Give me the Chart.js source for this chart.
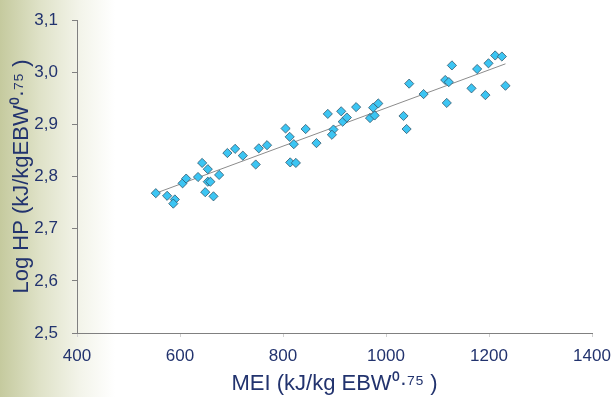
<!DOCTYPE html>
<html>
<head>
<meta charset="utf-8">
<script src="https://cdn.jsdelivr.net/npm/chart.js@4"></script>
<style>
  html, body { margin: 0; padding: 0; }
  body {
    width: 612px; height: 397px; overflow: hidden;
    background: linear-gradient(90deg, #c5ca9e 0px, #dfe2c8 40px, #f3f4ea 80px, #ffffff 115px);
  }
  #wrap { position: relative; width: 612px; height: 397px; }
</style>
</head>
<body>
<div id="wrap"><canvas id="chart1"></canvas></div>
<script>
// Valeurs (MEI, Log HP)
const meiValues = [553, 575, 590, 587, 605, 612, 635, 643, 654, 654, 659, 649, 665, 676,
  692, 707, 722, 747, 753, 769, 805, 813, 821, 814, 825, 844, 865, 887, 898, 895, 913,
  916, 924, 942, 969, 978, 975, 985, 1045, 1073, 1034, 1040, 1128, 1115, 1122, 1118,
  1166, 1177, 1193, 1199, 1212, 1225, 1232];
const logHpValues = [2.768, 2.763, 2.756, 2.748, 2.787, 2.796, 2.799, 2.826, 2.814, 2.790,
  2.790, 2.770, 2.762, 2.803, 2.845, 2.853, 2.840, 2.823, 2.854, 2.860, 2.892, 2.876,
  2.862, 2.827, 2.826, 2.891, 2.864, 2.920, 2.890, 2.880, 2.925, 2.905, 2.913, 2.933,
  2.912, 2.917, 2.932, 2.940, 2.978, 2.958, 2.916, 2.891, 3.013, 2.985, 2.981, 2.941,
  2.969, 3.006, 2.956, 3.017, 3.032, 3.030, 2.974];

// Droite de tendance (extrémités)
const trendX = [553, 1232];
const trendY = [2.768, 3.016];

// Axes
const xTicks = [400, 600, 800, 1000, 1200, 1400];
const yTicks = [2.5, 2.6, 2.7, 2.8, 2.9, 3.0, 3.1];
const xTitle = 'MEI (kJ/kg EBW\u2070\u00b7\u2077\u2075 )';
const yTitle = 'Log HP (kJ/kgEBW\u2070\u00b7\u2077\u2075 )';

const textColor = '#22336e';
const fontFamily = '"Liberation Sans", Arial, sans-serif';

const points = [];
for (let i = 0; i < meiValues.length; i++) {
  points.push({ x: meiValues[i], y: logHpValues[i] });
}
const trend = [];
for (let i = 0; i < trendX.length; i++) {
  trend.push({ x: trendX[i], y: trendY[i] });
}

const data = {
  datasets: [{
    type: 'scatter',
    label: 'Log HP',
    data: points,
    pointStyle: 'rectRot',
    radius: 4.6,
    backgroundColor: '#3cc5f3',
    borderColor: 'rgba(45,80,100,0.75)',
    borderWidth: 1,
    order: 0
  }, {
    type: 'line',
    label: 'Tendance',
    data: trend,
    borderColor: '#8c8c8c',
    borderWidth: 1,
    pointRadius: 0,
    fill: false,
    order: 1
  }]
};

const config = {
  type: 'scatter',
  data,
  options: {
    responsive: false,
    animation: false,
    layout: { padding: { top: 20, right: 20, left: 0, bottom: 0 } },
    plugins: { legend: { display: false }, tooltip: { enabled: false } },
    scales: {
      x: {
        type: 'linear',
        min: 400, max: 1400,
        afterBuildTicks: function (scale) { scale.ticks = xTicks.map(v => ({ value: v })); },
        afterFit: function (scale) {
          scale.height = 64;
          scale.paddingLeft = 0;
          scale.paddingRight = 0;
        },
        border: { display: true, color: '#808080', width: 1 },
        grid: { drawOnChartArea: false, drawTicks: true, tickLength: 4, color: '#d0d0d0' },
        ticks: {
          color: textColor, font: { family: fontFamily, size: 17 }, padding: 9, maxRotation: 0,
          callback: function (v) { return String(v); }
        },
        title: { display: true, text: xTitle, color: textColor, font: { family: fontFamily, size: 22 }, padding: { top: 0, bottom: 0 } }
      },
      y: {
        type: 'linear',
        min: 2.5, max: 3.1,
        afterBuildTicks: function (scale) { scale.ticks = yTicks.map(v => ({ value: v })); },
        afterFit: function (scale) {
          scale.width = 77;
          scale.paddingTop = 0;
          scale.paddingBottom = 0;
        },
        border: { display: true, color: '#808080', width: 1 },
        grid: { drawOnChartArea: false, drawTicks: true, tickLength: 5, color: '#808080' },
        ticks: {
          color: textColor, font: { family: fontFamily, size: 17 }, padding: 14,
          callback: function (v) { return v.toFixed(1).replace('.', ','); }
        },
        title: { display: true, text: yTitle, color: textColor, font: { family: fontFamily, size: 22 }, padding: { top: 9, bottom: 0 } }
      }
    }
  }
};

const canvas = document.getElementById('chart1');
canvas.width = 612;
canvas.height = 397;
const myChart = new Chart(canvas, config);
</script>
</body>
</html>
